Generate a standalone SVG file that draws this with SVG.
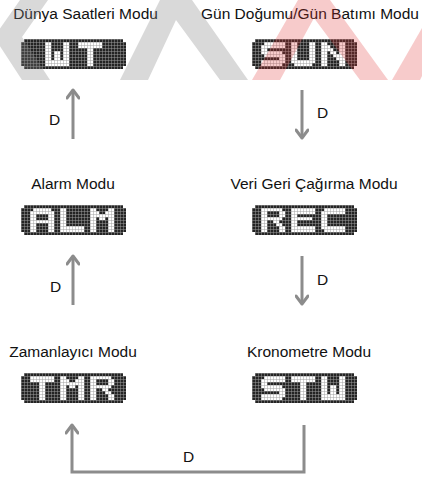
<svg xmlns="http://www.w3.org/2000/svg" width="422" height="477" viewBox="0 0 422 477">
  <style>
    .lbl { font-family: "Liberation Sans", Arial, sans-serif; font-size: 15.5px; fill: #111; }
    .lcd { fill: #242424; }
    .px { fill: #ffffff; }
    .grid { fill: url(#grid); }
    .conn { fill: none; stroke: #8c8c8c; stroke-width: 3; }
  </style>
  <defs>
    <!-- LCD cell grid, 3px pitch -->
    <pattern id="grid" width="3" height="3" patternUnits="userSpaceOnUse">
      <path d="M0 0.3H3M0.3 0V3" stroke="#a0a0a0" stroke-width="0.6" fill="none"/>
    </pattern>
    <!-- display outline: 35 x 10 cells with clipped corners -->
    <path id="lcdShape" d="M3 0H102V3H105V27H102V30H3V27H0V3H3Z"/>
    <!-- dot-matrix glyphs: 8 x 8 cells of 3px -->
    <path id="gA" d="M3 0h18v3H3z M0 3h24v3H0z M0 6h6v18H0z M18 6h6v18h-6z M6 12h12v3H6z"/>
    <path id="gL" d="M0 0h6v24H0z M6 18h18v6H6z"/>
    <path id="gM" d="M0 0h6v24H0z M18 0h6v24h-6z M6 3h3v3H6z M15 3h3v3h-3z M6 6h12v3H6z M9 9h6v3H9z"/>
    <path id="gW" d="M0 0h6v24H0z M18 0h6v24h-6z M9 9h6v9H9z M6 18h12v6H6z"/>
    <path id="gT" d="M0 0h24v6H0z M9 6h6v18H9z"/>
    <path id="gS" d="M3 0h21v6H3z M0 3h6v9H0z M3 9h18v6H3z M18 12h6v9h-6z M0 18h21v6H0z"/>
    <path id="gU" d="M0 0h6v21H0z M18 0h6v21h-6z M3 18h18v6H3z"/>
    <path id="gN" d="M0 0h6v24H0z M18 0h6v24h-6z M6 3h3v6H6z M9 6h3v6H9z M12 9h3v6h-3z M15 12h3v6h-3z"/>
    <path id="gR" d="M0 0h6v24H0z M6 0h15v3H6z M18 3h6v6h-6z M6 9h15v3H6z M12 12h6v3h-6z M15 15h6v3h-6z M18 18h6v6h-6z"/>
    <path id="gE" d="M0 0h6v24H0z M6 0h18v6H6z M6 9h15v3H6z M6 18h18v6H6z"/>
    <path id="gC" d="M3 0h21v3H3z M0 3h24v3H0z M0 6h6v12H0z M0 18h24v3H0z M3 21h21v3H3z"/>
    <marker id="head" viewBox="0 0 12 14" refX="10" refY="7" markerWidth="12" markerHeight="14" markerUnits="userSpaceOnUse" orient="auto">
      <path d="M2 1L10 7L2 13" fill="none" stroke="#8c8c8c" stroke-width="3" stroke-linecap="round" stroke-linejoin="round"/>
    </marker>
  </defs>

  <rect width="422" height="477" fill="#ffffff"/>

  <!-- world time -->
  <g id="node-wt">
    <text class="lbl" x="85.5" y="19" text-anchor="middle">Dünya Saatleri Modu</text>
    <g transform="translate(21,39)">
      <use href="#lcdShape" class="lcd"/>
      <g class="px"><use href="#gW" x="24" y="3"/><use href="#gT" x="57" y="3"/></g>
      <use href="#lcdShape" class="grid"/>
    </g>
  </g>

  <!-- sunrise / sunset -->
  <g id="node-sun">
    <text class="lbl" x="310" y="19" text-anchor="middle">Gün Doğumu/Gün Batımı Modu</text>
    <g transform="translate(252,39)">
      <use href="#lcdShape" class="lcd"/>
      <g class="px"><use href="#gS" x="9" y="3"/><use href="#gU" x="39" y="3"/><use href="#gN" x="69" y="3"/></g>
      <use href="#lcdShape" class="grid"/>
    </g>
  </g>

  <!-- alarm -->
  <g id="node-alm">
    <text class="lbl" x="73" y="189" text-anchor="middle">Alarm Modu</text>
    <g transform="translate(21,205)">
      <use href="#lcdShape" class="lcd"/>
      <g class="px"><use href="#gA" x="9" y="3"/><use href="#gL" x="39" y="3"/><use href="#gM" x="69" y="3"/></g>
      <use href="#lcdShape" class="grid"/>
    </g>
  </g>

  <!-- data recall -->
  <g id="node-rec">
    <text class="lbl" x="314" y="189" text-anchor="middle">Veri Geri Çağırma Modu</text>
    <g transform="translate(252,205)">
      <use href="#lcdShape" class="lcd"/>
      <g class="px"><use href="#gR" x="9" y="3"/><use href="#gE" x="39" y="3"/><use href="#gC" x="69" y="3"/></g>
      <use href="#lcdShape" class="grid"/>
    </g>
  </g>

  <!-- timer -->
  <g id="node-tmr">
    <text class="lbl" x="73" y="357" text-anchor="middle">Zamanlayıcı Modu</text>
    <g transform="translate(21,373)">
      <use href="#lcdShape" class="lcd"/>
      <g class="px"><use href="#gT" x="9" y="3"/><use href="#gM" x="39" y="3"/><use href="#gR" x="69" y="3"/></g>
      <use href="#lcdShape" class="grid"/>
    </g>
  </g>

  <!-- stopwatch -->
  <g id="node-stw">
    <text class="lbl" x="309" y="357" text-anchor="middle">Kronometre Modu</text>
    <g transform="translate(252,373)">
      <use href="#lcdShape" class="lcd"/>
      <g class="px"><use href="#gS" x="9" y="3"/><use href="#gT" x="39" y="3"/><use href="#gW" x="69" y="3"/></g>
      <use href="#lcdShape" class="grid"/>
    </g>
  </g>

  <!-- connectors (button D) -->
  <g id="connectors">
    <path class="conn" d="M73 139V90" marker-end="url(#head)"/>
    <path class="conn" d="M302 90V138" marker-end="url(#head)"/>
    <path class="conn" d="M73 305V256" marker-end="url(#head)"/>
    <path class="conn" d="M302 256V304" marker-end="url(#head)"/>
    <path class="conn" d="M304 425V472H72V425" marker-end="url(#head)"/>
    <text class="lbl" x="49" y="125">D</text>
    <text class="lbl" x="317" y="118">D</text>
    <text class="lbl" x="50" y="292">D</text>
    <text class="lbl" x="317" y="285">D</text>
    <text class="lbl" x="183" y="462">D</text>
  </g>

  <!-- translucent watermark strokes across the top -->
  <g id="watermark">
    <polygon points="20,0 48,0 22,37 50,80 22,80 -6,37" fill="#808080" opacity="0.3"/>
    <polygon points="120,80 160,0 192,0 248,80 220,80 176,20 148,80" fill="#808080" opacity="0.3"/>
    <polygon points="252,80 298,0 330,0 388,80 360,80 314,18 280,80" fill="#e03030" opacity="0.25"/>
    <polygon points="392,80 420,80 422,76 422,28" fill="#e03030" opacity="0.25"/>
  </g>
</svg>
